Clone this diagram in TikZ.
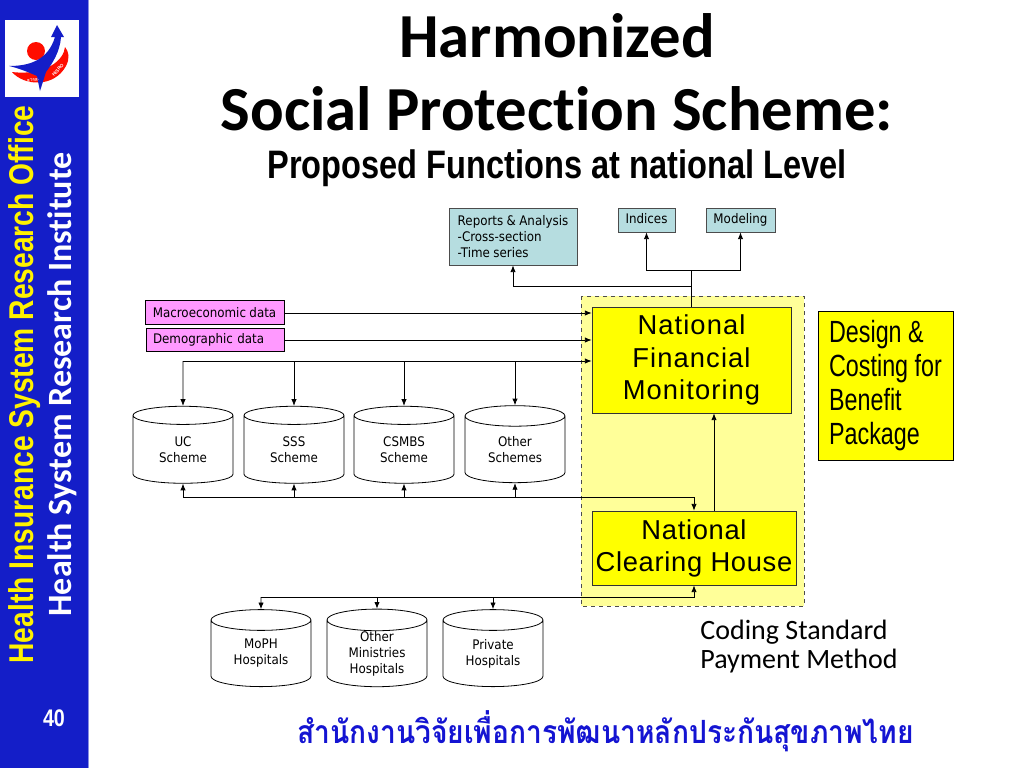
\documentclass[tikz,border=0pt]{standalone}
\usepackage{fontspec}
\setmainfont{Liberation Sans}
\newfontfamily\titlefont[Ligatures=NoCommon]{Carlito}
\newfontfamily\narrowfont[FakeStretch=0.82]{Liberation Sans}
\newfontfamily\designfont[FakeStretch=0.76]{Liberation Sans}
\newfontfamily\boxfont[FakeStretch=0.9,WordSpace=0.9]{DejaVu Sans}
\newfontfamily\widefont[LetterSpace=4]{Liberation Sans}
\newfontfamily\clearfont[LetterSpace=2.5]{Liberation Sans}
\newfontfamily\thaifont[Script=Thai]{Loma}
\newfontfamily\thainarrow[Script=Thai,FakeStretch=0.88]{Loma}
\usetikzlibrary{shapes.geometric,arrows.meta}
\definecolor{sidebar}{RGB}{20,30,200}
\definecolor{zonefill}{RGB}{255,255,153}
\definecolor{boxyellow}{RGB}{255,255,0}
\definecolor{tealfill}{RGB}{182,221,224}
\definecolor{pinkfill}{RGB}{255,153,255}
\definecolor{thaiblue}{RGB}{20,20,210}
\tikzset{
  smallbox/.style = {draw, inner sep = 0pt, font = \boxfont\fontsize{9.9}{12}\selectfont},
  outbox/.style = {smallbox, fill = tealfill, draw = black!70},
  tabbox/.style = {outbox, minimum height = 18pt, text height = 1.6ex, text depth = 0.5ex},
  inbox/.style = {smallbox, fill = pinkfill, minimum height = 17.5pt},
  bigbox/.style = {draw = black!80, fill = boxyellow, inner sep = 0pt, align = center},
  store/.style = {draw, cylinder, shape border rotate = 90, aspect = 0.38, minimum width = 75pt,
    minimum height = 57.75pt, inner sep = 0pt, align = center, font = \boxfont\fontsize{9.9}{12}\selectfont},
  sidetext/.style = {rotate = 90, font = \narrowfont\bfseries\fontsize{25.8}{28}\selectfont}
}
\begin{document}
\begin{tikzpicture}[x = 0.75pt, y = -0.75pt, >={Latex[length=5pt,width=4pt]}, line width = 0.6pt]
    \useasboundingbox (0, 0) rectangle (1024, 768);

    % side bar and logo
    \fill[sidebar] (0, 0) rectangle (88, 768);
    \fill[sidebar!50!white] (88, 0) rectangle (89, 768);
    \fill[white] (5, 20) rectangle (79, 97);
    \fill[red!90!orange] (36, 51) circle (9);
    \fill[red!90!orange] (12, 72) .. controls (24, 86) and (54, 88) .. (66, 66) .. controls (70, 58) and (69, 52) .. (65, 47)
      .. controls (64, 60) and (46, 76) .. (12, 72);
    \fill[sidebar] (57, 25) -- (64, 37) -- (61, 37) .. controls (60, 52) and (52, 64) .. (46, 72) -- (40, 91) -- (37, 76)
      .. controls (28, 72) and (18, 68) .. (9, 66) .. controls (30, 66) and (48, 60) .. (55, 37) -- (51, 37) -- cycle;
    \node[text = white, rotate = 8, inner sep = 0pt, font = \thaifont\bfseries\fontsize{3.5}{4}\selectfont] (logothai) at (33, 80) {สวรส.};
    \node[text = white, rotate = 48, inner sep = 0pt, font = \bfseries\fontsize{3.5}{4}\selectfont] (logoname) at (58, 70) {HISRO};
    \node[sidetext, text = yellow] (officename) at (25, 384.5) {Health Insurance System Research Office};
    \node[rotate = 90, text = white, font = \titlefont\bfseries\fontsize{25.5}{28}\selectfont] (institute) at (62, 384.5) {Health System Research Institute};
    \node[text = white, font = \narrowfont\bfseries\fontsize{18}{20}\selectfont] (pageno) at (54, 718) {40};

    % titles
    \node[font = \titlefont\bfseries\fontsize{47}{50}\selectfont] (title) at (557, 36) {Harmonized};
    \node[font = \titlefont\bfseries\fontsize{47}{50}\selectfont] (scheme) at (557, 109) {Social Protection Scheme:};
    \node[font = \narrowfont\bfseries\fontsize{29.8}{32}\selectfont] (subtitle) at (557, 168) {Proposed Functions at national Level};

    % zone and main boxes
    \draw[dashed, draw = black!70, fill = zonefill] (581, 296) rectangle (804, 606);
    \node[bigbox, minimum width = 149.25pt, minimum height = 79.5pt, font = \widefont\fontsize{20.5}{24.5}\selectfont] (monitoring) at (691.5, 360) {National\\Financial\\Monitoring};
    \node[bigbox, minimum width = 153pt, minimum height = 55.5pt, font = \clearfont\fontsize{20.5}{24}\selectfont] (clearing) at (694, 548) {National\\Clearing House};
    \node[bigbox, draw = black, minimum width = 101.25pt, minimum height = 111.75pt, align = left, font = \designfont\fontsize{23}{25.5}\selectfont] (design) at (885.5, 385.5) {Design \&\\Costing for\\Benefit\\Package};

    % output boxes
    \node[outbox, minimum width = 96pt, minimum height = 42.75pt, align = left] (reports) at (513, 236.5) {Reports \& Analysis\\-Cross-section\\-Time series};
    \node[tabbox, minimum width = 42.75pt] (indices) at (646.5, 220) {Indices};
    \node[tabbox, minimum width = 51.75pt] (modeling) at (740.5, 220) {Modeling};

    % input boxes
    \node[inbox, minimum width = 104.25pt] (macrodata) at (214.5, 312.5) {Macroeconomic data};
    \node[inbox, minimum width = 103.5pt, text width = 93pt, align = left] (demodata) at (215, 340) {Demographic data};

    % schemes
    \node[store] (uc) at (183, 449.5) {UC\\Scheme};
    \node[store] (sss) at (294, 449.5) {SSS\\Scheme};
    \node[store] (csmbs) at (404, 449.5) {CSMBS\\Scheme};
    \node[store] (otherschemes) at (515, 449.5) {Other\\Schemes};

    % hospitals
    \node[store] (moph) at (261, 653.5) {MoPH\\Hospitals};
    \node[store] (ministries) at (377, 653.5) {Other\\Ministries\\Hospitals};
    \node[store] (private) at (493, 653.5) {Private\\Hospitals};

    % junctions
    \coordinate (topfork) at (691, 270);
    \coordinate (leftfork) at (691, 286);
    \coordinate (schemebus) at (183, 361);
    \coordinate (returnbus) at (183, 497);
    \coordinate (hospitalbus) at (261, 597);

    % connectors
    \draw[->] (macrodata.east |- 0, 313) -- (monitoring.west |- 0, 313);
    \draw[->] (demodata.east) -- (monitoring.west |- demodata.east);
    \draw[->] (schemebus) -- (monitoring.west |- schemebus);
    \draw[->] (schemebus) -- (uc.north);
    \draw[->] (sss.north |- schemebus) -- (sss.north);
    \draw[->] (csmbs.north |- schemebus) -- (csmbs.north);
    \draw[->] (otherschemes.north |- schemebus) -- (otherschemes.north);

    \draw (monitoring.north -| topfork) -- (topfork);
    \draw[->] (leftfork) -| (reports.south);
    \draw[->] (topfork) -| (indices.south);
    \draw[->] (topfork) -| (modeling.south);

    \draw[->] (returnbus) -- (uc.south);
    \draw[->] (sss.south |- returnbus) -- (sss.south);
    \draw[->] (csmbs.south |- returnbus) -- (csmbs.south);
    \draw[->] (otherschemes.south |- returnbus) -- (otherschemes.south);
    \draw[->] (returnbus) -| (clearing.north);

    \draw[->] (clearing.north -| 714, 0) -- (monitoring.south -| 714, 0);

    \draw[->] (hospitalbus) -- (moph.north);
    \draw[->] (ministries.north |- hospitalbus) -- (ministries.north);
    \draw[->] (private.north |- hospitalbus) -- (private.north);
    \draw[->] (hospitalbus) -| (clearing.south);

    % notes
    \node[anchor = west, inner sep = 0pt, align = left, font = \titlefont\fontsize{21}{21.75}\selectfont] (coding) at (700, 647) {Coding Standard\\Payment Method};
    \node[text = thaiblue, font = \thainarrow\bfseries\fontsize{24}{26}\selectfont] (thaioffice) at (605.5, 731) {สำนักงานวิจัยเพื่อการพัฒนาหลักประกันสุขภาพไทย};

\end{tikzpicture}
\end{document}
